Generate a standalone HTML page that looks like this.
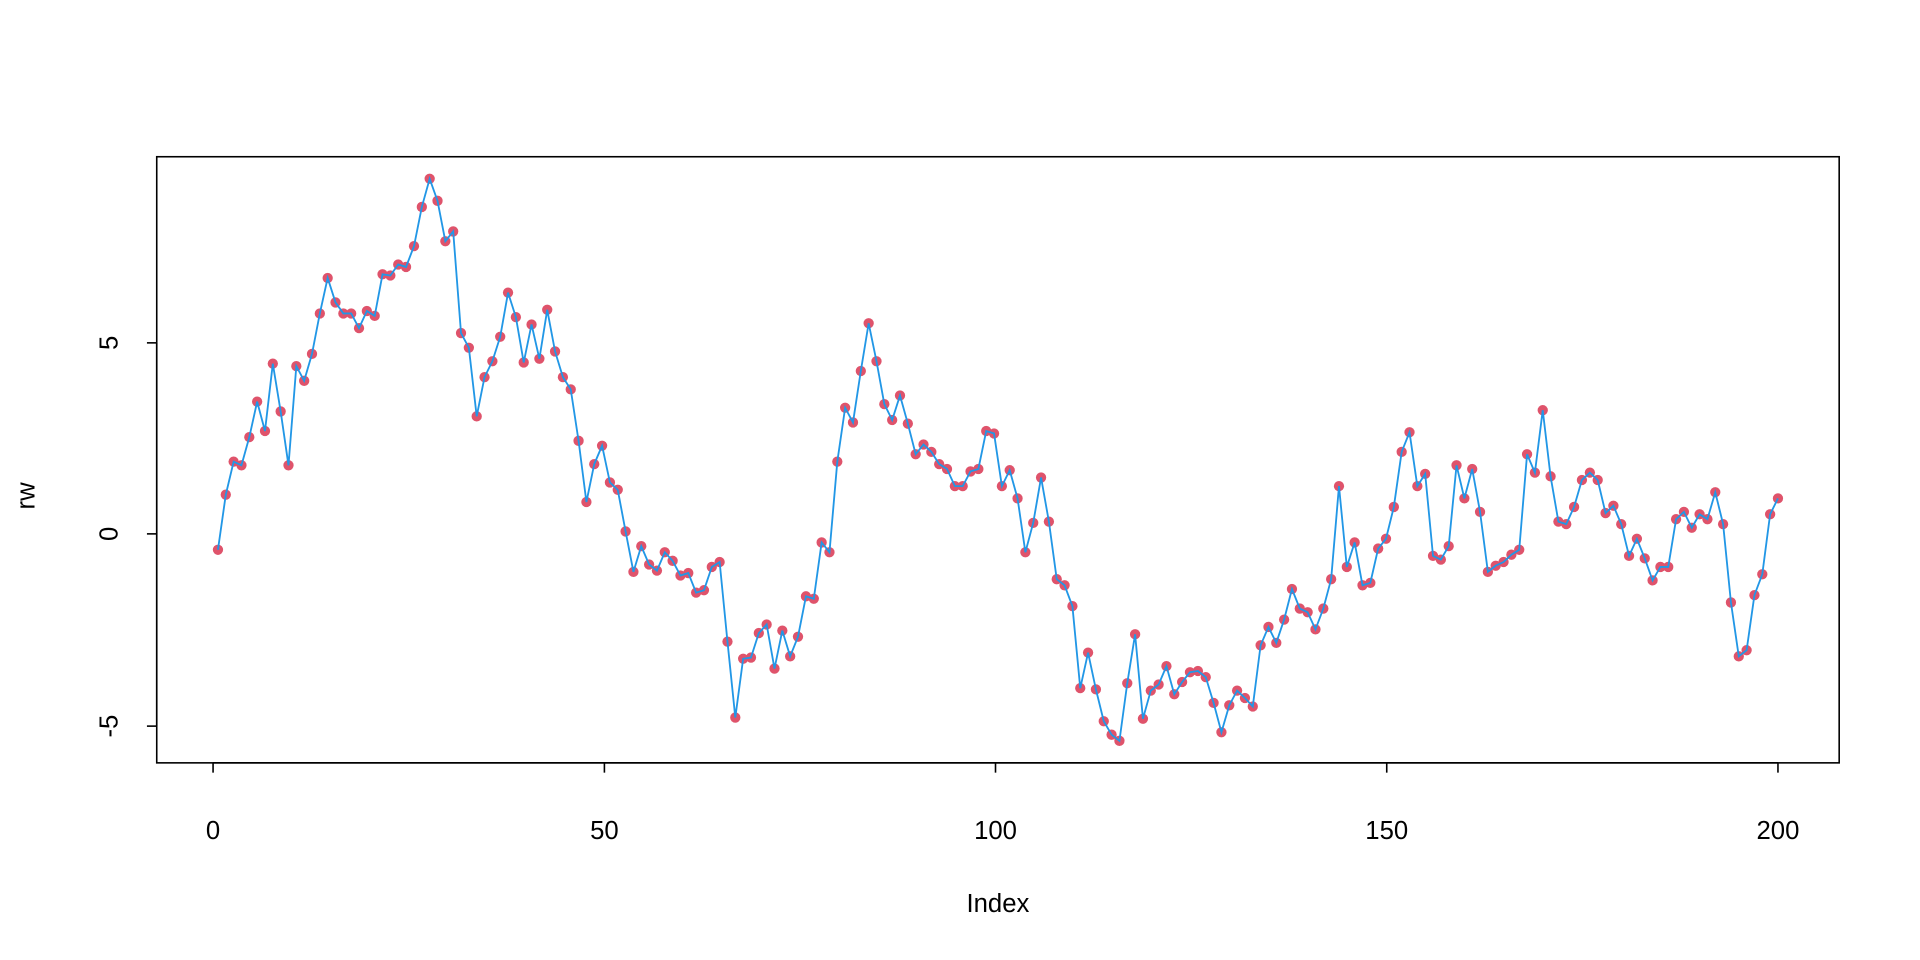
<!DOCTYPE html>
<html><head><meta charset="utf-8"><style>html,body{margin:0;padding:0;background:#fff}svg{display:block}</style></head>
<body>
<svg id="s" xmlns="http://www.w3.org/2000/svg" width="1920" height="960" viewBox="0 0 1568 784" font-family="Liberation Sans, Arial, sans-serif" font-size="21">
<rect x="128" y="128" width="1374" height="495" fill="none" stroke="#000" stroke-width="1.3"/>
<g stroke="#000" stroke-width="1.3">
<line x1="174" y1="623" x2="1452" y2="623"/>
<line x1="174" y1="623" x2="174" y2="631"/><line x1="493.6" y1="623" x2="493.6" y2="631"/><line x1="813" y1="623" x2="813" y2="631"/><line x1="1132.5" y1="623" x2="1132.5" y2="631"/><line x1="1452" y1="623" x2="1452" y2="631"/>
<line x1="128" y1="280" x2="128" y2="593"/>
<line x1="120" y1="280" x2="128" y2="280"/><line x1="120" y1="436" x2="128" y2="436"/><line x1="120" y1="593" x2="128" y2="593"/>
</g>
<g text-anchor="middle">
<text x="174" y="685">0</text><text x="493.6" y="685">50</text><text x="813" y="685">100</text><text x="1132.5" y="685">150</text><text x="1452" y="685">200</text>
<text x="815" y="745">Index</text>
<text transform="translate(96,280) rotate(-90)">5</text>
<text transform="translate(96,436) rotate(-90)">0</text>
<text transform="translate(96,593) rotate(-90)">-5</text>
<text transform="translate(28,405) rotate(-90)">rw</text>
</g>
<g id="pts" fill="#DF536B"></g>
<polyline id="ln" fill="none" stroke="#2297E6" stroke-width="1.5"/>
</svg>
<script>
var y=[449,404,377,380,357,328,352,297,336,380,299,311,289,256,227,247,256,256,268,254,258,224,225,216,218,201,169,146,164,197,189,272,284,340,308,295,275,239,259,296,265,293,253,287,308,318,360,410,379,364,394,400,434,467,446,461,466,451,458,470,468,484,482,463,459,524,586,538,537,517,510,546,515,536,520,487,489,443,451,377,333,345,303,264,295,330,343,323,346,371,363,369,379,383,397,397,385,383,352,354,397,384,407,451,427,390,426,473,478,495,562,533,563,589,600,605,558,518,587,564,559,544,567,557,549,548,553,574,598,576,564,570,577,527,512,525,506,481,497,500,514,497,473,397,463,443,478,476,448,440,414,369,353,397,387,454,457,446,380,407,383,418,467,462,459,453,449,371,386,335,389,426,428,414,392,386,392,419,413,428,454,440,456,474,463,463,424,418,431,420,424,402,428,492,536,531,486,469,420,407];
var g=document.getElementById('pts'),p=[],h='';
for(var i=0;i<y.length;i++){var x=(178+i*6.402).toFixed(1);p.push(x+','+y[i]);h+='<circle cx="'+x+'" cy="'+y[i]+'" r="4.2"/>';}
g.innerHTML=h;document.getElementById('ln').setAttribute('points',p.join(' '));
</script>
</body></html>
